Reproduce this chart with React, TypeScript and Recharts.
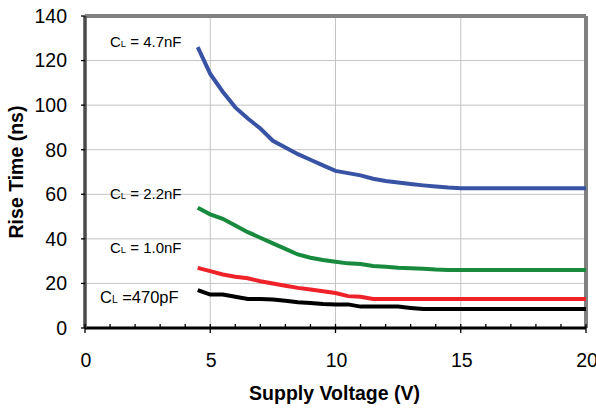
import React from "react";
import {
  LineChart,
  Line,
  XAxis,
  YAxis,
  CartesianGrid,
  ReferenceLine,
} from "recharts";

// supply voltage (V)
const VOLTS = [
  4.5, 5, 5.5, 6, 6.5, 7, 7.5, 8, 8.5, 9, 9.5, 10, 10.5, 11, 11.5, 12, 12.5,
  13, 13.5, 14, 14.5, 15, 15.5, 16, 16.5, 17, 17.5, 18, 18.5, 19, 19.5, 20,
];

// rise time (ns) per load capacitance
const C_4_7NF = [
  126, 114, 106, 99, 94, 89.5, 84, 81, 78, 75.5, 73, 70.5, 69.5, 68.5, 67, 66,
  65.3, 64.6, 64, 63.5, 63, 62.7, 62.7, 62.7, 62.7, 62.7, 62.7, 62.7, 62.7,
  62.7, 62.7, 62.7,
];
const C_2_2NF = [
  54, 51, 49, 46, 43, 40.5, 38, 35.5, 33, 31.5, 30.5, 29.7, 29, 28.7, 27.8,
  27.5, 27, 26.8, 26.6, 26.2, 26, 26, 26, 26, 26, 26, 26, 26, 26, 26, 26, 26,
];
const C_1_0NF = [
  27, 25.5, 24, 23, 22.3, 21, 20, 19, 18, 17.3, 16.5, 15.7, 14.3, 14, 13, 13,
  13, 13, 13, 13, 13, 13, 13, 13, 13, 13, 13, 13, 13, 13, 13, 13,
];
const C_470PF = [
  17, 15, 15, 14, 13, 13, 12.8, 12.2, 11.6, 11.2, 10.8, 10.6, 10.6, 9.6, 9.6,
  9.6, 9.6, 9, 8.5, 8.5, 8.5, 8.5, 8.5, 8.5, 8.5, 8.5, 8.5, 8.5, 8.5, 8.5, 8.5,
  8.5,
];

const X_TICKS = Array.from({ length: 21 }, (_, i) => i);
const Y_TICKS = [0, 20, 40, 60, 80, 100, 120, 140];

const FONT = "'Liberation Sans', Arial, sans-serif";
const TICK_MARGIN = 0;

const rows = VOLTS.map((v, i) => ({
  v,
  c47: C_4_7NF[i],
  c22: C_2_2NF[i],
  c10: C_1_0NF[i],
  c470: C_470PF[i],
}));

function XTick(props: any) {
  const { x, y, payload } = props;
  const axisY = y - TICK_MARGIN;
  const major = payload.value % 5 === 0;
  return (
    <g>
      <line
        x1={x}
        x2={x}
        y1={axisY - 4}
        y2={axisY + (major ? 5 : 0)}
        stroke="#000"
        strokeWidth={1.3}
      />
      {major && (
        <text
          x={x + 1}
          y={axisY + 39}
          textAnchor="middle"
          fontSize={19.5}
          fontFamily={FONT}
          fill="#000"
        >
          {payload.value}
        </text>
      )}
    </g>
  );
}

function CapLabel({ left, top, value, size = 15, gap = " " }: any) {
  return (
    <div
      style={{
        position: "absolute",
        left,
        top,
        fontFamily: FONT,
        fontSize: size,
        color: "#000",
        whiteSpace: "pre",
        lineHeight: 1,
      }}
    >
      C<span style={{ fontSize: size * 0.62 }}>L</span> ={gap}
      {value}
    </div>
  );
}

export default function App() {
  return (
    <div
      style={{
        position: "absolute",
        left: 0,
        top: 0,
        width: 596,
        height: 409,
        background: "#fff",
        overflow: "hidden",
      }}
    >
      <LineChart
        width={596}
        height={409}
        data={rows}
        margin={{ top: 16, right: 10, bottom: 0, left: 0 }}
      >
        <CartesianGrid
          stroke="#c4c4c4"
          strokeWidth={1}
          horizontalValues={[20, 40, 60, 80, 100, 120]}
          verticalValues={[5, 10, 15]}
        />
        <XAxis
          dataKey="v"
          type="number"
          domain={[0, 20]}
          ticks={X_TICKS}
          interval={0}
          height={81}
          tickSize={0}
          tickMargin={TICK_MARGIN}
          tickLine={false}
          axisLine={{ stroke: "#000", strokeWidth: 3 }}
          tick={<XTick />}
        />
        <YAxis
          type="number"
          domain={[0, 140]}
          ticks={Y_TICKS}
          interval={0}
          width={85}
          tickSize={4}
          tickMargin={14}
          tickLine={{ stroke: "#000", strokeWidth: 1.3 }}
          axisLine={{ stroke: "#4a4a4a", strokeWidth: 3.5 }}
          tick={{ fontSize: 19.5, fontFamily: FONT, fill: "#000" }}
        />
        <ReferenceLine y={140} stroke="#808080" strokeWidth={4} />
        <ReferenceLine x={20} stroke="#808080" strokeWidth={4} />
        <Line
          dataKey="c47"
          stroke="#3953a4"
          strokeWidth={4}
          dot={false}
          type="linear"
          isAnimationActive={false}
        />
        <Line
          dataKey="c22"
          stroke="#178a3e"
          strokeWidth={4}
          dot={false}
          type="linear"
          isAnimationActive={false}
        />
        <Line
          dataKey="c10"
          stroke="#ee2228"
          strokeWidth={4}
          dot={false}
          type="linear"
          isAnimationActive={false}
        />
        <Line
          dataKey="c470"
          stroke="#000"
          strokeWidth={4}
          dot={false}
          type="linear"
          isAnimationActive={false}
        />
      </LineChart>

      <CapLabel left={110} top={34} value="4.7nF" />
      <CapLabel left={110} top={186} value="2.2nF" />
      <CapLabel left={110} top={240} value="1.0nF" />
      <CapLabel left={100} top={289} value="470pF" size={16.5} gap="" />

      <div
        style={{
          position: "absolute",
          left: 0,
          top: 384,
          width: 669,
          textAlign: "center",
          fontFamily: FONT,
          fontWeight: "bold",
          fontSize: 19.5,
          lineHeight: 1,
        }}
      >
        Supply Voltage (V)
      </div>
      <div
        style={{
          position: "absolute",
          left: 17,
          top: 172,
          transform: "translate(-50%, -50%) rotate(-90deg)",
          fontFamily: FONT,
          fontWeight: "bold",
          fontSize: 19.5,
          lineHeight: 1,
          whiteSpace: "nowrap",
        }}
      >
        Rise Time (ns)
      </div>
    </div>
  );
}
